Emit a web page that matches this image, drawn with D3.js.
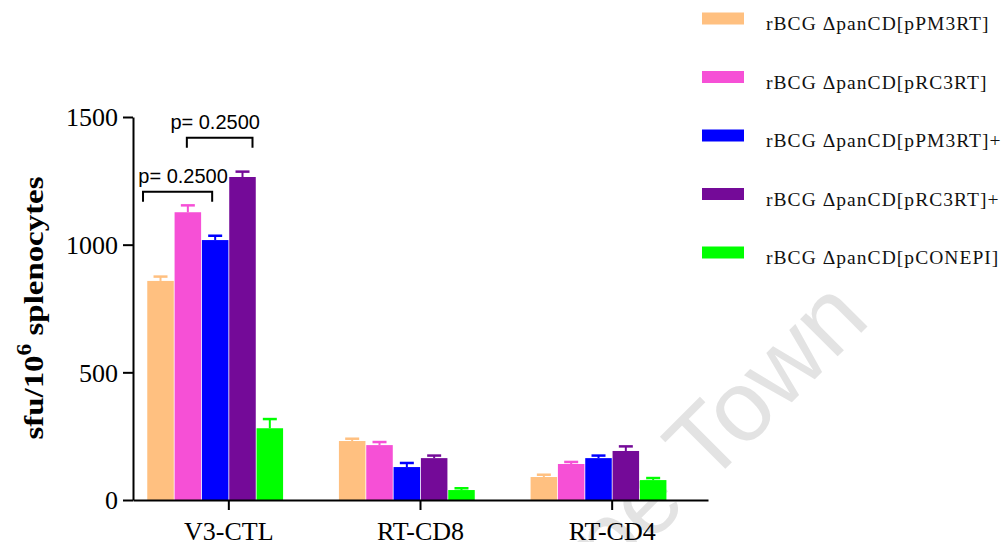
<!DOCTYPE html>
<html>
<head>
<meta charset="utf-8">
<script src="https://cdn.jsdelivr.net/npm/d3@7/dist/d3.min.js"></script>
<style>
  html, body { margin: 0; padding: 0; background: #fff; }
  svg { display: block; }
</style>
</head>
<body>
<svg id="chart" width="1008" height="542"></svg>
<script>
// Antigen groups along the x axis
const categories = ["V3-CTL", "RT-CD8", "RT-CD4"];

// Vaccine groups (legend order)
const seriesNames = [
  "rBCG \u0394panCD[pPM3RT]",
  "rBCG \u0394panCD[pRC3RT]",
  "rBCG \u0394panCD[pPM3RT]+",
  "rBCG \u0394panCD[pRC3RT]+",
  "rBCG \u0394panCD[pCONEPI]"
];
const seriesColors = ["#FFC080", "#F650D6", "#0000FF", "#740A98", "#00FF00"];

// Mean sfu/10^6 splenocytes per group, ordered as categories
const meanPM3RT      = [858, 231, 90];
const meanRC3RT      = [1127, 215, 141];
const meanPM3RTplus  = [1018, 129, 164];
const meanRC3RTplus  = [1265, 164, 192];
const meanCONEPI     = [281, 39, 78];

// Standard error (upper bar only)
const semPM3RT      = [17, 9, 9];
const semRC3RT      = [27, 12, 8];
const semPM3RTplus  = [17, 16, 10];
const semRC3RTplus  = [21, 10, 18];
const semCONEPI     = [36, 7, 8];

const yTicks = [0, 500, 1000, 1500];

// Pairwise comparisons within V3-CTL
const comparisons = [
  { category: "V3-CTL", from: 0, to: 2, level: 1207, label: "p= 0.2500" },
  { category: "V3-CTL", from: 1, to: 3, level: 1419, label: "p= 0.2500" }
];
// bracket end adjustments and label shift (px)
const bracketStyle = [
  { dx0: -17.5, dx1: -3, labelDx: 5.5 },
  { dx0: -1, dx1: 10, labelDx: -4.5 }
];

const means = [meanPM3RT, meanRC3RT, meanPM3RTplus, meanRC3RTplus, meanCONEPI];
const sems  = [semPM3RT, semRC3RT, semPM3RTplus, semRC3RTplus, semCONEPI];

const svg = d3.select("#chart");
const serif = "'Liberation Serif', 'Times New Roman', Times, serif";
const sans = "'Liberation Sans', Arial, Helvetica, sans-serif";

// watermark, drawn behind everything
svg.append("text")
  .attr("transform", "translate(872,322) rotate(-45)")
  .attr("text-anchor", "end")
  .attr("font-family", sans)
  .attr("font-size", 100)
  .attr("fill", "#e3e3e3")
  .text("Cape Town");

const plot = { left: 133, right: 708, top: 117, bottom: 500 };

const x0 = d3.scaleBand()
  .domain(categories)
  .range([plot.left, plot.right])
  .padding(0);

// six slots per group; the last one stays empty
const slots = seriesNames.map((d, i) => i).concat([seriesNames.length]);
const x1 = d3.scaleBand()
  .domain(slots)
  .range([0, x0.bandwidth()])
  .paddingInner(0)
  .paddingOuter(0.507);

const y = d3.scaleLinear()
  .domain([0, 1500])
  .range([plot.bottom, plot.top]);

// bars
const rows = [];
categories.forEach((c, ci) => {
  seriesNames.forEach((s, si) => {
    rows.push({ c, si, v: means[si][ci], e: sems[si][ci] });
  });
});

const barG = svg.append("g");
barG.selectAll("rect")
  .data(rows)
  .join("rect")
  .attr("x", d => x0(d.c) + x1(d.si) + 0.4)
  .attr("width", x1.bandwidth() - 0.8)
  .attr("y", d => y(d.v))
  .attr("height", d => y(0) - y(d.v))
  .attr("fill", d => seriesColors[d.si]);

// error bars (upper)
const errG = svg.append("g");
rows.forEach(d => {
  const cx = x0(d.c) + x1(d.si) + x1.bandwidth() / 2;
  const col = seriesColors[d.si];
  errG.append("line")
    .attr("x1", cx).attr("x2", cx)
    .attr("y1", y(d.v)).attr("y2", y(d.v + d.e))
    .attr("stroke", col).attr("stroke-width", 2);
  errG.append("line")
    .attr("x1", cx - 7).attr("x2", cx + 7)
    .attr("y1", y(d.v + d.e)).attr("y2", y(d.v + d.e))
    .attr("stroke", col).attr("stroke-width", 2.5);
});

// axes
const yAxis = d3.axisLeft(y)
  .tickValues(yTicks)
  .tickSize(10)
  .tickSizeOuter(0)
  .tickPadding(5)
  .tickFormat(d3.format("d"));

const yg = svg.append("g")
  .attr("transform", `translate(${plot.left},0)`)
  .call(yAxis);
yg.select(".domain").attr("stroke", "#000").attr("stroke-width", 2);
yg.selectAll(".tick line").attr("stroke", "#000").attr("stroke-width", 2);
yg.selectAll(".tick text")
  .attr("font-family", serif)
  .attr("font-size", 26)
  .attr("fill", "#000")
  .attr("dy", "0.34em");

const xAxis = d3.axisBottom(x0)
  .tickSize(10)
  .tickSizeOuter(0)
  .tickPadding(12);
const xg = svg.append("g")
  .attr("transform", `translate(0,${plot.bottom})`)
  .call(xAxis);
xg.select(".domain").attr("stroke", "#000").attr("stroke-width", 2);
xg.selectAll(".tick line").attr("stroke", "#000").attr("stroke-width", 2);
xg.selectAll(".tick text")
  .attr("font-family", serif)
  .attr("font-size", 26)
  .attr("fill", "#000")
  .attr("dy", "0.71em");

// y-axis title
const yTitle = svg.append("text")
  .attr("transform", `translate(43,308) rotate(-90)`)
  .attr("text-anchor", "middle")
  .attr("font-family", serif)
  .attr("font-weight", "bold")
  .attr("font-size", 28)
  .attr("fill", "#000")
  .attr("textLength", 263)
  .attr("lengthAdjust", "spacingAndGlyphs");
yTitle.append("tspan").text("sfu/10");
yTitle.append("tspan").attr("dy", -12).attr("font-size", 20).text("6");
yTitle.append("tspan").attr("dy", 12).text(" splenocytes");

// significance brackets
comparisons.forEach((cmp, i) => {
  const st = bracketStyle[i];
  const xa = x0(cmp.category) + x1(cmp.from) + x1.bandwidth() / 2 + st.dx0;
  const xb = x0(cmp.category) + x1(cmp.to) + x1.bandwidth() / 2 + st.dx1;
  const yt = y(cmp.level);
  svg.append("path")
    .attr("d", `M${xa},${yt + 10}V${yt}H${xb}V${yt + 10}`)
    .attr("fill", "none")
    .attr("stroke", "#000")
    .attr("stroke-width", 2);
  svg.append("text")
    .attr("x", (xa + xb) / 2 + st.labelDx)
    .attr("y", yt - 9)
    .attr("text-anchor", "middle")
    .attr("font-family", sans)
    .attr("font-size", 20)
    .attr("fill", "#000")
    .text(cmp.label);
});

// legend
const legend = svg.append("g");
seriesNames.forEach((name, i) => {
  const cy = 18.5 + i * 58.5;
  legend.append("rect")
    .attr("x", 702).attr("y", cy - 6)
    .attr("width", 42).attr("height", 12)
    .attr("fill", seriesColors[i]);
  legend.append("text")
    .attr("x", 766).attr("y", cy + 11.5)
    .attr("font-family", serif)
    .attr("font-size", 19.5)
    .attr("letter-spacing", 1.05)
    .attr("fill", "#111")
    .text(name);
});
</script>
</body>
</html>
